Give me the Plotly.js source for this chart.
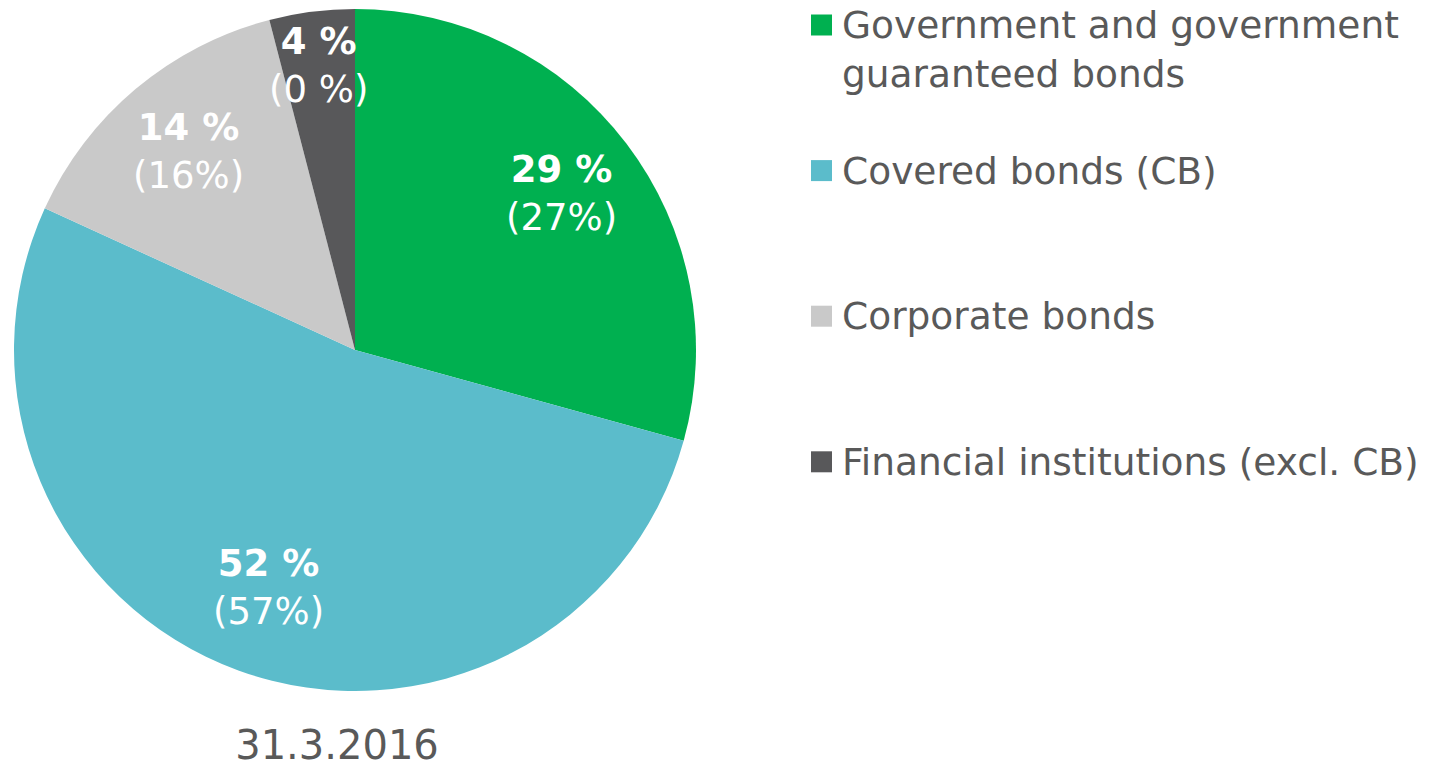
<!DOCTYPE html>
<html>
<head>
<meta charset="utf-8">
<script src="https://cdn.plot.ly/plotly-3.0.1.min.js"></script>
<style>html,body{margin:0;padding:0;background:#fff;}#chart{width:1437px;height:768px;}</style>
</head>
<body>
<div id="chart"></div>
<script>
// ---- data ----
const categories = ['Government and government guaranteed bonds', 'Covered bonds (CB)', 'Corporate bonds', 'Financial institutions (excl. CB)'];
const shares = [29, 52, 14, 4];
const currentLabels = ['29 %', '52 %', '14 %', '4 %'];
const priorLabels = ['(27%)', '(57%)', '(16%)', '(0 %)'];
const chartTitle = '31.3.2016';

// ---- style ----
const colors = ['#00B050', '#5BBCCB', '#C9C9C9', '#58585A'];
const W = 1437, H = 768;
const FONT = 'Verdana, "DejaVu Sans", sans-serif';
const pieBox = {x0: 14, x1: 696, y0: 9, y1: 691}; // pixels
const xDom = [pieBox.x0 / W, pieBox.x1 / W];
const yDom = [1 - pieBox.y1 / H, 1 - pieBox.y0 / H];

function wrap(s, max) {
  const words = s.split(' ');
  const lines = [];
  let cur = '';
  words.forEach(w => {
    if (cur && (cur + ' ' + w).length > max) { lines.push(cur); cur = w; }
    else cur = cur ? cur + ' ' + w : w;
  });
  if (cur) lines.push(cur);
  return lines.join('<br>');
}

const pie = {
  type: 'pie',
  values: shares,
  labels: categories,
  marker: {colors: colors, line: {width: 0}},
  sort: false,
  direction: 'clockwise',
  rotation: 0,
  textinfo: 'none',
  hoverinfo: 'none',
  showlegend: false,
  domain: {x: xDom, y: yDom}
};

const annotations = [], shapes = [];

// slice labels, placed on an invisible [-1,1] axis overlaying the pie, at slice mid-angles
const total = shares.reduce((a, b) => a + b, 0);
let cum = 0;
shares.forEach((v, i) => {
  const mid = (cum + v / 2) / total * 2 * Math.PI;
  cum += v;
  const rf = v / total < 0.1 ? 0.84 : (v / total > 0.5 ? 0.74 : 0.76);
  annotations.push({
    xref: 'x', yref: 'y',
    x: rf * Math.sin(mid), y: rf * Math.cos(mid),
    xanchor: 'center', yanchor: 'middle', align: 'center',
    text: '<b>' + currentLabels[i] + '</b><br>' + priorLabels[i],
    showarrow: false,
    font: {family: FONT, size: 37, color: '#FFFFFF'}
  });
});

// legend built from categories
const legendTextX = 840, legendSqX = 811, sq = 21;
const firstLineY = 24, itemStep = 145.6, lineH = 46;
categories.forEach((c, i) => {
  const yc = firstLineY + i * itemStep;
  annotations.push({
    xref: 'paper', yref: 'paper',
    x: legendTextX / W, y: 1 - (yc - lineH / 2) / H,
    xanchor: 'left', yanchor: 'top', align: 'left',
    text: wrap(c, 34), showarrow: false,
    font: {family: FONT, size: 37.5, color: '#595959'}
  });
  shapes.push({
    type: 'rect', xref: 'paper', yref: 'paper',
    x0: legendSqX / W, x1: (legendSqX + sq) / W,
    y0: 1 - (yc + 1 + sq / 2) / H, y1: 1 - (yc + 1 - sq / 2) / H,
    fillcolor: colors[i], line: {width: 0}
  });
});

const layout = {
  width: W, height: H,
  margin: {l: 0, r: 0, t: 0, b: 0},
  paper_bgcolor: '#FFFFFF', plot_bgcolor: 'rgba(0,0,0,0)',
  showlegend: false,
  title: {text: chartTitle, xref: 'paper', yref: 'paper', x: 337 / W, y: 9 / H,
          xanchor: 'center', yanchor: 'bottom',
          font: {family: FONT, size: 40, color: '#595959'}},
  xaxis: {domain: xDom, range: [-1, 1], visible: false, fixedrange: true},
  yaxis: {domain: yDom, range: [-1, 1], visible: false, fixedrange: true},
  annotations: annotations,
  shapes: shapes
};

Plotly.newPlot('chart', [pie], layout, {staticPlot: true, displayModeBar: false});
</script>
</body>
</html>
